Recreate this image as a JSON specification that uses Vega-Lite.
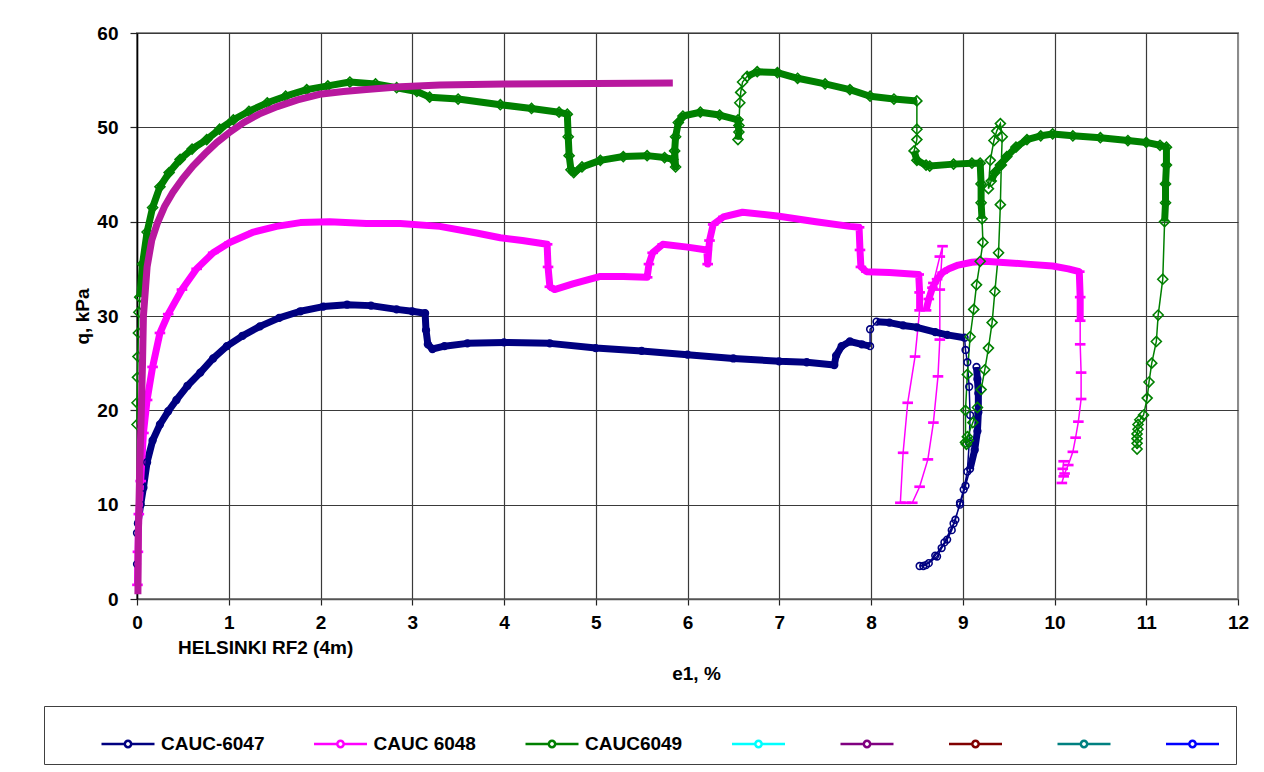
{
  "$schema": "https://vega.github.io/schema/vega-lite/v6.json",
  "width": 1101,
  "height": 566,
  "autosize": {"type": "none"},
  "padding": {"left": 137, "top": 33, "right": 26, "bottom": 173},
  "background": "white",
  "title": {"text": "HELSINKI RF2 (4m)", "orient": "top", "anchor": "start", "frame": "group", "font": "Liberation Sans", "fontSize": 19, "fontWeight": "bold", "color": "black", "offset": 0, "dx": 41, "dy": 634},
  "config": {"view": {"stroke": "#8c8c8c", "strokeWidth": 2}},
  "datasets": {
    "pts": [
      {"s":"CAUC-6047","e1":0,"q":3.7,"log":"lo","part":0},
      {"s":"CAUC-6047","e1":0,"q":7.0,"log":"lo","part":0},
      {"s":"CAUC-6047","e1":0.01,"q":8,"log":"hi","part":1},
      {"s":"CAUC-6047","e1":0.04,"q":10,"log":"hi","part":1},
      {"s":"CAUC-6047","e1":0.07,"q":11.8,"log":"hi","part":1},
      {"s":"CAUC-6047","e1":0.11,"q":14.5,"log":"hi","part":1},
      {"s":"CAUC-6047","e1":0.17,"q":16.8,"log":"hi","part":1},
      {"s":"CAUC-6047","e1":0.25,"q":18.5,"log":"hi","part":1},
      {"s":"CAUC-6047","e1":0.34,"q":19.9,"log":"hi","part":1},
      {"s":"CAUC-6047","e1":0.43,"q":21.1,"log":"hi","part":1},
      {"s":"CAUC-6047","e1":0.55,"q":22.6,"log":"hi","part":1},
      {"s":"CAUC-6047","e1":0.69,"q":24.0,"log":"hi","part":1},
      {"s":"CAUC-6047","e1":0.83,"q":25.5,"log":"hi","part":1},
      {"s":"CAUC-6047","e1":0.98,"q":26.8,"log":"hi","part":1},
      {"s":"CAUC-6047","e1":1.15,"q":27.9,"log":"hi","part":1},
      {"s":"CAUC-6047","e1":1.34,"q":28.9,"log":"hi","part":1},
      {"s":"CAUC-6047","e1":1.55,"q":29.8,"log":"hi","part":1},
      {"s":"CAUC-6047","e1":1.78,"q":30.5,"log":"hi","part":1},
      {"s":"CAUC-6047","e1":2.03,"q":31.0,"log":"hi","part":1},
      {"s":"CAUC-6047","e1":2.29,"q":31.2,"log":"hi","part":1},
      {"s":"CAUC-6047","e1":2.55,"q":31.1,"log":"hi","part":1},
      {"s":"CAUC-6047","e1":2.83,"q":30.7,"log":"hi","part":1},
      {"s":"CAUC-6047","e1":3.0,"q":30.5,"log":"hi","part":1},
      {"s":"CAUC-6047","e1":3.14,"q":30.3,"log":"hi","part":1},
      {"s":"CAUC-6047","e1":3.15,"q":28.5,"log":"hi","part":1},
      {"s":"CAUC-6047","e1":3.17,"q":27.0,"log":"hi","part":1},
      {"s":"CAUC-6047","e1":3.22,"q":26.5,"log":"hi","part":1},
      {"s":"CAUC-6047","e1":3.35,"q":26.8,"log":"hi","part":1},
      {"s":"CAUC-6047","e1":3.6,"q":27.1,"log":"hi","part":1},
      {"s":"CAUC-6047","e1":4.0,"q":27.2,"log":"hi","part":1},
      {"s":"CAUC-6047","e1":4.5,"q":27.1,"log":"hi","part":1},
      {"s":"CAUC-6047","e1":5.0,"q":26.6,"log":"hi","part":1},
      {"s":"CAUC-6047","e1":5.5,"q":26.3,"log":"hi","part":1},
      {"s":"CAUC-6047","e1":6.0,"q":25.9,"log":"hi","part":1},
      {"s":"CAUC-6047","e1":6.5,"q":25.5,"log":"hi","part":1},
      {"s":"CAUC-6047","e1":7.0,"q":25.2,"log":"hi","part":1},
      {"s":"CAUC-6047","e1":7.3,"q":25.1,"log":"hi","part":1},
      {"s":"CAUC-6047","e1":7.6,"q":24.8,"log":"hi","part":1},
      {"s":"CAUC-6047","e1":7.62,"q":25.8,"log":"hi","part":1},
      {"s":"CAUC-6047","e1":7.68,"q":26.8,"log":"hi","part":1},
      {"s":"CAUC-6047","e1":7.77,"q":27.3,"log":"hi","part":1},
      {"s":"CAUC-6047","e1":7.9,"q":27.0,"log":"hi","part":1},
      {"s":"CAUC-6047","e1":7.99,"q":26.8,"log":"hi","part":1},
      {"s":"CAUC-6047","e1":7.99,"q":28.6,"log":"lo","part":1},
      {"s":"CAUC-6047","e1":8.06,"q":29.4,"log":"hi","part":2},
      {"s":"CAUC-6047","e1":8.2,"q":29.3,"log":"hi","part":2},
      {"s":"CAUC-6047","e1":8.35,"q":29.0,"log":"hi","part":2},
      {"s":"CAUC-6047","e1":8.5,"q":28.8,"log":"hi","part":2},
      {"s":"CAUC-6047","e1":8.7,"q":28.3,"log":"hi","part":2},
      {"s":"CAUC-6047","e1":8.83,"q":28.0,"log":"hi","part":2},
      {"s":"CAUC-6047","e1":9.02,"q":27.7,"log":"hi","part":2},
      {"s":"CAUC-6047","e1":9.03,"q":26.4,"log":"lo","part":2},
      {"s":"CAUC-6047","e1":9.05,"q":25.1,"log":"lo","part":2},
      {"s":"CAUC-6047","e1":9.07,"q":22.5,"log":"lo","part":2},
      {"s":"CAUC-6047","e1":9.08,"q":19.5,"log":"lo","part":2},
      {"s":"CAUC-6047","e1":9.07,"q":16.5,"log":"lo","part":2},
      {"s":"CAUC-6047","e1":9.05,"q":13.5,"log":"lo","part":2},
      {"s":"CAUC-6047","e1":9.01,"q":11.6,"log":"lo","part":2},
      {"s":"CAUC-6047","e1":8.97,"q":10.2,"log":"lo","part":2},
      {"s":"CAUC-6047","e1":8.92,"q":8.4,"log":"lo","part":2},
      {"s":"CAUC-6047","e1":8.88,"q":7.3,"log":"lo","part":2},
      {"s":"CAUC-6047","e1":8.83,"q":6.3,"log":"lo","part":2},
      {"s":"CAUC-6047","e1":8.77,"q":5.4,"log":"lo","part":2},
      {"s":"CAUC-6047","e1":8.72,"q":4.5,"log":"lo","part":2},
      {"s":"CAUC-6047","e1":8.63,"q":3.8,"log":"lo","part":2},
      {"s":"CAUC-6047","e1":8.53,"q":3.5,"log":"lo","part":2},
      {"s":"CAUC-6047","e1":8.57,"q":3.5,"log":"lo","part":2},
      {"s":"CAUC-6047","e1":8.6,"q":3.6,"log":"lo","part":2},
      {"s":"CAUC-6047","e1":8.7,"q":4.6,"log":"lo","part":2},
      {"s":"CAUC-6047","e1":8.8,"q":6.0,"log":"lo","part":2},
      {"s":"CAUC-6047","e1":8.9,"q":8.0,"log":"lo","part":2},
      {"s":"CAUC-6047","e1":8.97,"q":10.0,"log":"lo","part":2},
      {"s":"CAUC-6047","e1":9.03,"q":12.0,"log":"lo","part":2},
      {"s":"CAUC-6047","e1":9.08,"q":13.8,"log":"hi","part":3},
      {"s":"CAUC-6047","e1":9.13,"q":15.8,"log":"hi","part":3},
      {"s":"CAUC-6047","e1":9.16,"q":17.8,"log":"hi","part":3},
      {"s":"CAUC-6047","e1":9.17,"q":19.8,"log":"hi","part":3},
      {"s":"CAUC-6047","e1":9.17,"q":21.8,"log":"hi","part":3},
      {"s":"CAUC-6047","e1":9.16,"q":23.3,"log":"hi","part":3},
      {"s":"CAUC-6047","e1":9.15,"q":24.6,"log":"hi","part":3},

      {"s":"CAUC 6048","e1":0.005,"q":1.5,"log":"hi","part":1},
      {"s":"CAUC 6048","e1":0.01,"q":5,"log":"hi","part":1},
      {"s":"CAUC 6048","e1":0.02,"q":9,"log":"hi","part":1},
      {"s":"CAUC 6048","e1":0.04,"q":12.5,"log":"hi","part":1},
      {"s":"CAUC 6048","e1":0.07,"q":17.6,"log":"hi","part":1},
      {"s":"CAUC 6048","e1":0.11,"q":21.1,"log":"hi","part":1},
      {"s":"CAUC 6048","e1":0.17,"q":24.6,"log":"hi","part":1},
      {"s":"CAUC 6048","e1":0.25,"q":28.2,"log":"hi","part":1},
      {"s":"CAUC 6048","e1":0.34,"q":30.2,"log":"hi","part":1},
      {"s":"CAUC 6048","e1":0.49,"q":32.8,"log":"hi","part":1},
      {"s":"CAUC 6048","e1":0.65,"q":35.0,"log":"hi","part":1},
      {"s":"CAUC 6048","e1":0.83,"q":36.7,"log":"hi","part":1},
      {"s":"CAUC 6048","e1":1.01,"q":37.8,"log":"hi","part":1},
      {"s":"CAUC 6048","e1":1.27,"q":38.9,"log":"hi","part":1},
      {"s":"CAUC 6048","e1":1.52,"q":39.5,"log":"hi","part":1},
      {"s":"CAUC 6048","e1":1.78,"q":39.9,"log":"hi","part":1},
      {"s":"CAUC 6048","e1":2.1,"q":40.0,"log":"hi","part":1},
      {"s":"CAUC 6048","e1":2.5,"q":39.8,"log":"hi","part":1},
      {"s":"CAUC 6048","e1":2.87,"q":39.8,"log":"hi","part":1},
      {"s":"CAUC 6048","e1":3.3,"q":39.5,"log":"hi","part":1},
      {"s":"CAUC 6048","e1":3.7,"q":38.8,"log":"hi","part":1},
      {"s":"CAUC 6048","e1":3.96,"q":38.3,"log":"hi","part":1},
      {"s":"CAUC 6048","e1":4.2,"q":38.0,"log":"hi","part":1},
      {"s":"CAUC 6048","e1":4.47,"q":37.6,"log":"hi","part":1},
      {"s":"CAUC 6048","e1":4.48,"q":35.2,"log":"hi","part":1},
      {"s":"CAUC 6048","e1":4.5,"q":33.1,"log":"hi","part":1},
      {"s":"CAUC 6048","e1":4.55,"q":32.8,"log":"hi","part":1},
      {"s":"CAUC 6048","e1":4.75,"q":33.4,"log":"hi","part":1},
      {"s":"CAUC 6048","e1":5.05,"q":34.2,"log":"hi","part":1},
      {"s":"CAUC 6048","e1":5.3,"q":34.2,"log":"hi","part":1},
      {"s":"CAUC 6048","e1":5.56,"q":34.1,"log":"hi","part":1},
      {"s":"CAUC 6048","e1":5.58,"q":35.5,"log":"hi","part":1},
      {"s":"CAUC 6048","e1":5.62,"q":36.7,"log":"hi","part":1},
      {"s":"CAUC 6048","e1":5.73,"q":37.6,"log":"hi","part":1},
      {"s":"CAUC 6048","e1":6.0,"q":37.3,"log":"hi","part":1},
      {"s":"CAUC 6048","e1":6.21,"q":37.0,"log":"hi","part":1},
      {"s":"CAUC 6048","e1":6.22,"q":35.5,"log":"hi","part":1},
      {"s":"CAUC 6048","e1":6.24,"q":38.0,"log":"hi","part":1},
      {"s":"CAUC 6048","e1":6.28,"q":39.7,"log":"hi","part":1},
      {"s":"CAUC 6048","e1":6.39,"q":40.5,"log":"hi","part":1},
      {"s":"CAUC 6048","e1":6.6,"q":41.0,"log":"hi","part":1},
      {"s":"CAUC 6048","e1":6.98,"q":40.6,"log":"hi","part":1},
      {"s":"CAUC 6048","e1":7.4,"q":40.0,"log":"hi","part":1},
      {"s":"CAUC 6048","e1":7.77,"q":39.5,"log":"hi","part":1},
      {"s":"CAUC 6048","e1":7.87,"q":39.4,"log":"hi","part":1},
      {"s":"CAUC 6048","e1":7.88,"q":37.0,"log":"hi","part":1},
      {"s":"CAUC 6048","e1":7.89,"q":35.2,"log":"hi","part":1},
      {"s":"CAUC 6048","e1":7.95,"q":34.7,"log":"hi","part":1},
      {"s":"CAUC 6048","e1":8.2,"q":34.6,"log":"hi","part":1},
      {"s":"CAUC 6048","e1":8.52,"q":34.4,"log":"hi","part":1},
      {"s":"CAUC 6048","e1":8.53,"q":32.5,"log":"hi","part":1},
      {"s":"CAUC 6048","e1":8.53,"q":30.6,"log":"hi","part":1},
      {"s":"CAUC 6048","e1":8.48,"q":25.7,"log":"lo","part":1},
      {"s":"CAUC 6048","e1":8.4,"q":20.8,"log":"lo","part":1},
      {"s":"CAUC 6048","e1":8.35,"q":15.5,"log":"lo","part":1},
      {"s":"CAUC 6048","e1":8.32,"q":10.2,"log":"lo","part":1},
      {"s":"CAUC 6048","e1":8.38,"q":10.2,"log":"lo","part":1},
      {"s":"CAUC 6048","e1":8.45,"q":10.2,"log":"lo","part":1},
      {"s":"CAUC 6048","e1":8.53,"q":11.9,"log":"lo","part":1},
      {"s":"CAUC 6048","e1":8.62,"q":14.8,"log":"lo","part":1},
      {"s":"CAUC 6048","e1":8.68,"q":18.7,"log":"lo","part":1},
      {"s":"CAUC 6048","e1":8.73,"q":23.6,"log":"lo","part":1},
      {"s":"CAUC 6048","e1":8.75,"q":27.5,"log":"lo","part":1},
      {"s":"CAUC 6048","e1":8.75,"q":32.8,"log":"lo","part":1},
      {"s":"CAUC 6048","e1":8.78,"q":37.4,"log":"lo","part":1},
      {"s":"CAUC 6048","e1":8.75,"q":36.3,"log":"lo","part":1},
      {"s":"CAUC 6048","e1":8.68,"q":33.5,"log":"lo","part":1},
      {"s":"CAUC 6048","e1":8.6,"q":30.6,"log":"hi","part":2},
      {"s":"CAUC 6048","e1":8.63,"q":31.8,"log":"hi","part":2},
      {"s":"CAUC 6048","e1":8.67,"q":33.0,"log":"hi","part":2},
      {"s":"CAUC 6048","e1":8.72,"q":33.9,"log":"hi","part":2},
      {"s":"CAUC 6048","e1":8.78,"q":34.6,"log":"hi","part":2},
      {"s":"CAUC 6048","e1":8.85,"q":35.0,"log":"hi","part":2},
      {"s":"CAUC 6048","e1":8.95,"q":35.4,"log":"hi","part":2},
      {"s":"CAUC 6048","e1":9.1,"q":35.7,"log":"hi","part":2},
      {"s":"CAUC 6048","e1":9.25,"q":35.8,"log":"hi","part":2},
      {"s":"CAUC 6048","e1":9.4,"q":35.7,"log":"hi","part":2},
      {"s":"CAUC 6048","e1":9.7,"q":35.5,"log":"hi","part":2},
      {"s":"CAUC 6048","e1":9.98,"q":35.3,"log":"hi","part":2},
      {"s":"CAUC 6048","e1":10.15,"q":35.0,"log":"hi","part":2},
      {"s":"CAUC 6048","e1":10.27,"q":34.7,"log":"hi","part":2},
      {"s":"CAUC 6048","e1":10.28,"q":32.0,"log":"hi","part":2},
      {"s":"CAUC 6048","e1":10.28,"q":29.5,"log":"hi","part":2},
      {"s":"CAUC 6048","e1":10.28,"q":27.0,"log":"lo","part":2},
      {"s":"CAUC 6048","e1":10.29,"q":24.0,"log":"lo","part":2},
      {"s":"CAUC 6048","e1":10.29,"q":21.2,"log":"lo","part":2},
      {"s":"CAUC 6048","e1":10.26,"q":18.8,"log":"lo","part":2},
      {"s":"CAUC 6048","e1":10.23,"q":17.1,"log":"lo","part":2},
      {"s":"CAUC 6048","e1":10.2,"q":15.6,"log":"lo","part":2},
      {"s":"CAUC 6048","e1":10.15,"q":14.2,"log":"lo","part":2},
      {"s":"CAUC 6048","e1":10.11,"q":13.3,"log":"lo","part":2},
      {"s":"CAUC 6048","e1":10.08,"q":12.3,"log":"lo","part":2},
      {"s":"CAUC 6048","e1":10.1,"q":13.0,"log":"lo","part":2},
      {"s":"CAUC 6048","e1":10.09,"q":13.8,"log":"lo","part":2},
      {"s":"CAUC 6048","e1":10.1,"q":14.6,"log":"lo","part":2},

      {"s":"CAUC6049","e1":0,"q":18.5,"log":"lo","part":0},
      {"s":"CAUC6049","e1":0,"q":20.8,"log":"lo","part":0},
      {"s":"CAUC6049","e1":0.005,"q":23.5,"log":"lo","part":0},
      {"s":"CAUC6049","e1":0.01,"q":25.7,"log":"lo","part":0},
      {"s":"CAUC6049","e1":0.015,"q":28.2,"log":"lo","part":0},
      {"s":"CAUC6049","e1":0.02,"q":30.4,"log":"lo","part":0},
      {"s":"CAUC6049","e1":0.03,"q":32,"log":"hi","part":1},
      {"s":"CAUC6049","e1":0.06,"q":35.5,"log":"hi","part":1},
      {"s":"CAUC6049","e1":0.11,"q":38.9,"log":"hi","part":1},
      {"s":"CAUC6049","e1":0.17,"q":41.5,"log":"hi","part":1},
      {"s":"CAUC6049","e1":0.25,"q":43.7,"log":"hi","part":1},
      {"s":"CAUC6049","e1":0.35,"q":45.2,"log":"hi","part":1},
      {"s":"CAUC6049","e1":0.47,"q":46.6,"log":"hi","part":1},
      {"s":"CAUC6049","e1":0.6,"q":47.7,"log":"hi","part":1},
      {"s":"CAUC6049","e1":0.76,"q":48.7,"log":"hi","part":1},
      {"s":"CAUC6049","e1":0.9,"q":49.8,"log":"hi","part":1},
      {"s":"CAUC6049","e1":1.05,"q":50.8,"log":"hi","part":1},
      {"s":"CAUC6049","e1":1.22,"q":51.7,"log":"hi","part":1},
      {"s":"CAUC6049","e1":1.42,"q":52.6,"log":"hi","part":1},
      {"s":"CAUC6049","e1":1.62,"q":53.3,"log":"hi","part":1},
      {"s":"CAUC6049","e1":1.85,"q":54.0,"log":"hi","part":1},
      {"s":"CAUC6049","e1":2.08,"q":54.4,"log":"hi","part":1},
      {"s":"CAUC6049","e1":2.32,"q":54.8,"log":"hi","part":1},
      {"s":"CAUC6049","e1":2.6,"q":54.6,"log":"hi","part":1},
      {"s":"CAUC6049","e1":2.83,"q":54.2,"log":"hi","part":1},
      {"s":"CAUC6049","e1":3.05,"q":53.8,"log":"hi","part":1},
      {"s":"CAUC6049","e1":3.19,"q":53.2,"log":"hi","part":1},
      {"s":"CAUC6049","e1":3.5,"q":53.0,"log":"hi","part":1},
      {"s":"CAUC6049","e1":3.96,"q":52.4,"log":"hi","part":1},
      {"s":"CAUC6049","e1":4.3,"q":52.0,"log":"hi","part":1},
      {"s":"CAUC6049","e1":4.6,"q":51.6,"log":"hi","part":1},
      {"s":"CAUC6049","e1":4.69,"q":51.4,"log":"hi","part":1},
      {"s":"CAUC6049","e1":4.7,"q":49.0,"log":"hi","part":1},
      {"s":"CAUC6049","e1":4.71,"q":47.0,"log":"hi","part":1},
      {"s":"CAUC6049","e1":4.73,"q":45.5,"log":"hi","part":1},
      {"s":"CAUC6049","e1":4.76,"q":45.2,"log":"hi","part":1},
      {"s":"CAUC6049","e1":4.85,"q":45.8,"log":"hi","part":1},
      {"s":"CAUC6049","e1":5.05,"q":46.5,"log":"hi","part":1},
      {"s":"CAUC6049","e1":5.3,"q":46.9,"log":"hi","part":1},
      {"s":"CAUC6049","e1":5.56,"q":47.0,"log":"hi","part":1},
      {"s":"CAUC6049","e1":5.75,"q":46.8,"log":"hi","part":1},
      {"s":"CAUC6049","e1":5.84,"q":46.6,"log":"hi","part":1},
      {"s":"CAUC6049","e1":5.87,"q":45.8,"log":"hi","part":1},
      {"s":"CAUC6049","e1":5.86,"q":47.5,"log":"hi","part":1},
      {"s":"CAUC6049","e1":5.87,"q":49.0,"log":"hi","part":1},
      {"s":"CAUC6049","e1":5.9,"q":50.5,"log":"hi","part":1},
      {"s":"CAUC6049","e1":5.95,"q":51.2,"log":"hi","part":1},
      {"s":"CAUC6049","e1":6.14,"q":51.6,"log":"hi","part":1},
      {"s":"CAUC6049","e1":6.35,"q":51.3,"log":"hi","part":1},
      {"s":"CAUC6049","e1":6.55,"q":50.8,"log":"hi","part":1},
      {"s":"CAUC6049","e1":6.56,"q":49.5,"log":"hi","part":1},
      {"s":"CAUC6049","e1":6.55,"q":48.7,"log":"hi","part":1},
      {"s":"CAUC6049","e1":6.56,"q":50.2,"log":"lo","part":1},
      {"s":"CAUC6049","e1":6.57,"q":52.6,"log":"lo","part":1},
      {"s":"CAUC6049","e1":6.58,"q":53.7,"log":"lo","part":1},
      {"s":"CAUC6049","e1":6.6,"q":54.8,"log":"lo","part":1},
      {"s":"CAUC6049","e1":6.65,"q":55.4,"log":"hi","part":2},
      {"s":"CAUC6049","e1":6.76,"q":55.9,"log":"hi","part":2},
      {"s":"CAUC6049","e1":6.98,"q":55.8,"log":"hi","part":2},
      {"s":"CAUC6049","e1":7.2,"q":55.2,"log":"hi","part":2},
      {"s":"CAUC6049","e1":7.5,"q":54.6,"log":"hi","part":2},
      {"s":"CAUC6049","e1":7.77,"q":54.0,"log":"hi","part":2},
      {"s":"CAUC6049","e1":7.99,"q":53.3,"log":"hi","part":2},
      {"s":"CAUC6049","e1":8.25,"q":53.0,"log":"hi","part":2},
      {"s":"CAUC6049","e1":8.5,"q":52.8,"log":"hi","part":2},
      {"s":"CAUC6049","e1":8.5,"q":49.8,"log":"lo","part":2},
      {"s":"CAUC6049","e1":8.5,"q":48.7,"log":"lo","part":2},
      {"s":"CAUC6049","e1":8.47,"q":47.5,"log":"hi","part":3},
      {"s":"CAUC6049","e1":8.5,"q":46.5,"log":"hi","part":3},
      {"s":"CAUC6049","e1":8.6,"q":46.0,"log":"hi","part":3},
      {"s":"CAUC6049","e1":8.64,"q":45.9,"log":"hi","part":3},
      {"s":"CAUC6049","e1":8.9,"q":46.1,"log":"hi","part":3},
      {"s":"CAUC6049","e1":9.1,"q":46.2,"log":"hi","part":3},
      {"s":"CAUC6049","e1":9.19,"q":46.2,"log":"hi","part":3},
      {"s":"CAUC6049","e1":9.2,"q":44.0,"log":"hi","part":3},
      {"s":"CAUC6049","e1":9.2,"q":42.0,"log":"hi","part":3},
      {"s":"CAUC6049","e1":9.21,"q":40.3,"log":"hi","part":3},
      {"s":"CAUC6049","e1":9.22,"q":37.8,"log":"lo","part":3},
      {"s":"CAUC6049","e1":9.19,"q":35.8,"log":"lo","part":3},
      {"s":"CAUC6049","e1":9.15,"q":33.3,"log":"lo","part":3},
      {"s":"CAUC6049","e1":9.12,"q":30.7,"log":"lo","part":3},
      {"s":"CAUC6049","e1":9.08,"q":27.8,"log":"lo","part":3},
      {"s":"CAUC6049","e1":9.05,"q":23.8,"log":"lo","part":3},
      {"s":"CAUC6049","e1":9.03,"q":20.0,"log":"lo","part":3},
      {"s":"CAUC6049","e1":9.03,"q":16.6,"log":"lo","part":3},
      {"s":"CAUC6049","e1":9.04,"q":16.4,"log":"lo","part":3},
      {"s":"CAUC6049","e1":9.06,"q":16.8,"log":"lo","part":3},
      {"s":"CAUC6049","e1":9.05,"q":17.2,"log":"lo","part":3},
      {"s":"CAUC6049","e1":9.11,"q":18.7,"log":"lo","part":3},
      {"s":"CAUC6049","e1":9.16,"q":20.3,"log":"lo","part":3},
      {"s":"CAUC6049","e1":9.2,"q":22.2,"log":"lo","part":3},
      {"s":"CAUC6049","e1":9.24,"q":24.3,"log":"lo","part":3},
      {"s":"CAUC6049","e1":9.28,"q":26.6,"log":"lo","part":3},
      {"s":"CAUC6049","e1":9.32,"q":29.3,"log":"lo","part":3},
      {"s":"CAUC6049","e1":9.35,"q":32.6,"log":"lo","part":3},
      {"s":"CAUC6049","e1":9.39,"q":36.7,"log":"lo","part":3},
      {"s":"CAUC6049","e1":9.41,"q":41.8,"log":"lo","part":3},
      {"s":"CAUC6049","e1":9.42,"q":46.0,"log":"lo","part":3},
      {"s":"CAUC6049","e1":9.43,"q":49.0,"log":"lo","part":3},
      {"s":"CAUC6049","e1":9.41,"q":50.4,"log":"lo","part":3},
      {"s":"CAUC6049","e1":9.37,"q":49.6,"log":"lo","part":3},
      {"s":"CAUC6049","e1":9.34,"q":48.6,"log":"lo","part":3},
      {"s":"CAUC6049","e1":9.3,"q":46.5,"log":"lo","part":3},
      {"s":"CAUC6049","e1":9.28,"q":43.5,"log":"lo","part":3},
      {"s":"CAUC6049","e1":9.31,"q":44.3,"log":"hi","part":4},
      {"s":"CAUC6049","e1":9.35,"q":45.2,"log":"hi","part":4},
      {"s":"CAUC6049","e1":9.41,"q":46.0,"log":"hi","part":4},
      {"s":"CAUC6049","e1":9.48,"q":46.9,"log":"hi","part":4},
      {"s":"CAUC6049","e1":9.58,"q":47.9,"log":"hi","part":4},
      {"s":"CAUC6049","e1":9.7,"q":48.7,"log":"hi","part":4},
      {"s":"CAUC6049","e1":9.85,"q":49.1,"log":"hi","part":4},
      {"s":"CAUC6049","e1":9.98,"q":49.3,"log":"hi","part":4},
      {"s":"CAUC6049","e1":10.2,"q":49.1,"log":"hi","part":4},
      {"s":"CAUC6049","e1":10.5,"q":48.9,"log":"hi","part":4},
      {"s":"CAUC6049","e1":10.8,"q":48.6,"log":"hi","part":4},
      {"s":"CAUC6049","e1":11.0,"q":48.4,"log":"hi","part":4},
      {"s":"CAUC6049","e1":11.15,"q":48.1,"log":"hi","part":4},
      {"s":"CAUC6049","e1":11.22,"q":47.9,"log":"hi","part":4},
      {"s":"CAUC6049","e1":11.22,"q":46.0,"log":"hi","part":4},
      {"s":"CAUC6049","e1":11.21,"q":44.0,"log":"hi","part":4},
      {"s":"CAUC6049","e1":11.21,"q":42.0,"log":"hi","part":4},
      {"s":"CAUC6049","e1":11.2,"q":40.0,"log":"hi","part":4},
      {"s":"CAUC6049","e1":11.18,"q":33.9,"log":"lo","part":4},
      {"s":"CAUC6049","e1":11.13,"q":30.1,"log":"lo","part":4},
      {"s":"CAUC6049","e1":11.11,"q":27.3,"log":"lo","part":4},
      {"s":"CAUC6049","e1":11.06,"q":25.0,"log":"lo","part":4},
      {"s":"CAUC6049","e1":11.03,"q":23.0,"log":"lo","part":4},
      {"s":"CAUC6049","e1":11.01,"q":21.3,"log":"lo","part":4},
      {"s":"CAUC6049","e1":10.97,"q":19.5,"log":"lo","part":4},
      {"s":"CAUC6049","e1":10.93,"q":19.0,"log":"lo","part":4},
      {"s":"CAUC6049","e1":10.91,"q":18.5,"log":"lo","part":4},
      {"s":"CAUC6049","e1":10.91,"q":18.0,"log":"lo","part":4},
      {"s":"CAUC6049","e1":10.9,"q":17.5,"log":"lo","part":4},
      {"s":"CAUC6049","e1":10.9,"q":17.0,"log":"lo","part":4},
      {"s":"CAUC6049","e1":10.9,"q":16.5,"log":"lo","part":4},
      {"s":"CAUC6049","e1":10.9,"q":15.9,"log":"lo","part":4}
    ],
    "fit": [
      {"e1":0.01,"q":0.5},{"e1":0.015,"q":7},{"e1":0.03,"q":14},{"e1":0.05,"q":21},{"e1":0.06,"q":25},
      {"e1":0.07,"q":30},{"e1":0.11,"q":35.2},{"e1":0.16,"q":38},{"e1":0.22,"q":39.8},{"e1":0.3,"q":41.6},
      {"e1":0.39,"q":43.1},{"e1":0.5,"q":44.6},{"e1":0.61,"q":45.9},{"e1":0.74,"q":47.2},{"e1":0.87,"q":48.4},
      {"e1":1.0,"q":49.4},{"e1":1.16,"q":50.5},{"e1":1.33,"q":51.4},{"e1":1.53,"q":52.2},{"e1":1.75,"q":52.9},
      {"e1":1.99,"q":53.5},{"e1":2.25,"q":53.8},{"e1":2.5,"q":54.0},{"e1":2.87,"q":54.3},{"e1":3.3,"q":54.5},
      {"e1":4.0,"q":54.6},{"e1":5.0,"q":54.65},{"e1":5.84,"q":54.7}
    ]
  },
  "data": {"name": "pts"},
  "transform": [{"window": [{"op": "row_number", "as": "idx"}]}],
  "layer": [
    {
      "mark": {"type": "line", "strokeWidth": 1.5, "clip": false},
      "encoding": {
        "x": {"field": "e1", "type": "quantitative", "scale": {"domain": [0, 12], "nice": false, "zero": false},
          "axis": {"values": [0,1,2,3,4,5,6,7,8,9,10,11,12], "format": "d", "title": "e1, %", "grid": true,
            "gridColor": {"condition": {"test": "datum.value === 12", "value": "#8c8c8c"}, "value": "#3a3a3a"}, "gridWidth": 1.2,
            "domainColor": "#555555", "domainWidth": 1.5, "tickColor": "#222222", "tickSize": 6, "tickWidth": 1.2,
            "labelFont": "Liberation Sans", "labelFontSize": 19, "labelFontWeight": "bold", "labelColor": "black", "labelPadding": 8, "labelFlush": false,
            "titleFont": "Liberation Sans", "titleFontSize": 19, "titleFontWeight": "bold", "titleColor": "black",
            "titleX": 559, "titleY": 74, "titleAlign": "center", "titleBaseline": "middle"}},
        "y": {"field": "q", "type": "quantitative", "scale": {"domain": [0, 60], "nice": false, "zero": false},
          "axis": {"values": [0,10,20,30,40,50,60], "format": "d", "title": "q, kPa", "grid": true, "gridColor": "#3a3a3a", "gridWidth": 1.2,
            "domainColor": "black", "domainWidth": 1.5, "tickColor": "#222222", "tickSize": 7, "tickWidth": 1.2,
            "labelFont": "Liberation Sans", "labelFontSize": 19, "labelFontWeight": "bold", "labelColor": "black", "labelPadding": 12, "labelFlush": false,
            "titleFont": "Liberation Sans", "titleFontSize": 19, "titleFontWeight": "bold", "titleColor": "black",
            "titleX": -55, "titleY": 283, "titleAngle": -90, "titleAlign": "center", "titleBaseline": "middle"}},
        "stroke": {"field": "s", "type": "nominal",
          "scale": {"domain": ["s8","s7","s6","s5","s4","CAUC6049","CAUC 6048","CAUC-6047"],
                    "range": ["#0000FF","#008080","#800000","#800080","#00FFFF","#008000","#FF00FF","#000080"]},
          "legend": null},
        "detail": {"field": "s"},
        "order": {"field": "idx", "type": "quantitative"}
      }
    },
    {
      "transform": [{"filter": "datum.log === 'hi'"}],
      "mark": {"type": "line", "strokeWidth": 7, "strokeJoin": "round", "strokeCap": "butt", "clip": false},
      "encoding": {
        "x": {"field": "e1", "type": "quantitative"},
        "y": {"field": "q", "type": "quantitative"},
        "stroke": {"field": "s", "type": "nominal", "legend": null},
        "detail": {"field": "part"},
        "order": {"field": "idx", "type": "quantitative"}
      }
    },
    {
      "mark": {"type": "point", "filled": false, "strokeWidth": 1.6, "opacity": 1, "clip": false,
               "shape": "M-1,0H-0.12M0.12,0H1M-0.12,0A0.12,0.12 0 1,0 0.12,0A0.12,0.12 0 1,0 -0.12,0"},
      "encoding": {
        "x": {"field": "e1", "type": "quantitative"},
        "y": {"field": "q", "type": "quantitative"},
        "color": {"field": "s", "type": "nominal",
          "scale": {"domain": ["CAUC-6047","CAUC 6048","CAUC6049","s4","s5","s6","s7","s8"],
                    "range": ["#000080","#FF00FF","#008000","#00FFFF","#800080","#800000","#008080","#0000FF"]},
          "legend": {
            "orient": "none", "legendX": -93, "legendY": 673, "direction": "horizontal",
            "title": " ", "titleOrient": "left", "titlePadding": 46, "titleFontSize": 19,
            "strokeColor": "#404040", "fillColor": "white", "padding": 10,
            "symbolType": "M-1,0H-0.12M0.12,0H1M-0.12,0A0.12,0.12 0 1,0 0.12,0A0.12,0.12 0 1,0 -0.12,0",
            "symbolSize": 2809, "symbolStrokeWidth": 2.5, "symbolFillColor": "white",
            "labelFont": "Liberation Sans", "labelFontSize": 19, "labelFontWeight": "bold", "labelColor": "black",
            "labelOffset": 5, "columnPadding": 43.5,
            "labelExpr": "datum.label === 's8' ? '\u00a0\u00a0\u00a0\u00a0\u00a0\u00a0' : (indexof(datum.label, 'CAUC') < 0 ? '' : datum.label)",
            "encode": {"symbols": {
              "size": {"value": 2809},
              "strokeWidth": {"value": 2.5}
            }}
          }},
        "shape": {"field": "s", "type": "nominal",
          "scale": {"domain": ["CAUC6049","CAUC 6048","CAUC-6047","s4","s5","s6","s7","s8"],
                    "range": ["diamond","M-1,-0.12H1V0.12H-1Z","circle","cross","cross","circle","cross","triangle-up"]},
          "legend": null},
        "size": {"field": "s", "type": "nominal",
          "scale": {"type": "ordinal", "domain": ["CAUC 6048","CAUC-6047","CAUC6049","s4","s5","s6","s7","s8"],
                    "range": [81, 45, 100, 60, 60, 40, 60, 60]},
          "legend": null}
      }
    },
    {
      "data": {"name": "fit"},
      "mark": {"type": "line", "strokeWidth": 7, "color": "#B8189E", "strokeCap": "butt", "clip": false},
      "encoding": {
        "x": {"field": "e1", "type": "quantitative"},
        "y": {"field": "q", "type": "quantitative"}
      }
    }
  ]
}
